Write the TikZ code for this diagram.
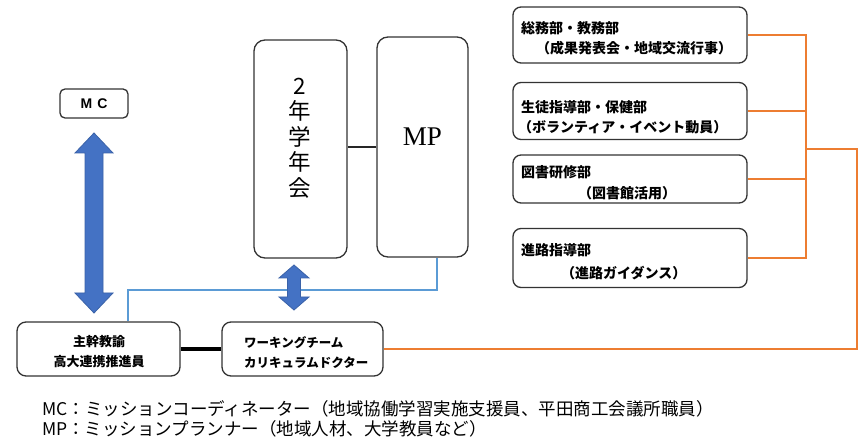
\documentclass[tikz,border=0pt]{standalone}
\usepackage{fontspec}
\setmainfont{Liberation Serif}
\newfontfamily\jp{Noto Sans CJK JP}
\newfontfamily\lsans{Liberation Sans}
\definecolor{orgline}{HTML}{ED7D31}
\definecolor{blueline}{HTML}{5B9BD5}
\definecolor{arrowfill}{HTML}{4472C4}
\definecolor{arrowdraw}{HTML}{3A62A8}
\definecolor{boxdraw}{HTML}{333333}
\begin{document}
\begin{tikzpicture}[x=1pt,y=-1pt,
  box/.style={draw=boxdraw, line width=1.3pt, rounded corners=8pt, fill=white, inner sep=0pt},
  rbox/.style={box, minimum width=234pt},
  rtext/.style={font=\jp\bfseries\fontsize{14}{20}\selectfont, align=left, inner sep=0pt, anchor=west},
  btext/.style={font=\jp\bfseries\fontsize{12.5}{20}\selectfont},
  orgl/.style={draw=orgline, line width=2pt},
  bluel/.style={draw=blueline, line width=1.5pt},
  bigarrow/.style={fill=arrowfill, draw=arrowdraw, line width=0.8pt},
  legend/.style={font=\jp\fontsize{17.5}{20}\selectfont, inner sep=0pt, anchor=west}
]
\useasboundingbox (0,0) rectangle (867,443);
\fill[white] (0,0) rectangle (867,443);

% MC box
\node[box, rounded corners=5pt, minimum width=68pt, minimum height=29pt,
      font=\lsans\bfseries\fontsize{14}{14}\selectfont] (mc) at (94,103.5) {M\hspace{5pt}C};

% tall boxes
\node[box, rounded corners=11pt, minimum width=93pt, minimum height=218pt] (nen) at (300.5,149) {};
\node[font=\jp\fontsize{22.5}{25.5}\selectfont, align=center, inner sep=0pt] (nentext) at (300,138) {2\\年\\学\\年\\会};
\node[box, rounded corners=11pt, minimum width=91pt, minimum height=220pt] (mp) at (422.5,147) {};
\node[font=\fontsize{27}{30}\selectfont, inner sep=0pt] (mptext) at (422.5,137) {MP};

% bottom boxes
\node[box, rounded corners=9pt, minimum width=163pt, minimum height=54pt] (kan) at (98.5,349) {};
\node[font=\jp\bfseries\fontsize{13}{20}\selectfont, align=center, inner sep=0pt] (kantext) at (99,352) {主幹教諭\\高大連携推進員};
\node[box, rounded corners=9pt, minimum width=161pt, minimum height=54pt] (wt) at (302.5,349) {};
\node[btext, align=left, inner sep=0pt, anchor=west] (wttext) at (244,352) {ワーキングチーム\\カリキュラムドクター};

% right boxes
\node[rbox, minimum height=56pt] (r1) at (630,35) {};
\node[rbox, minimum height=57pt] (r2) at (630,111) {};
\node[rbox, minimum height=48pt] (r3) at (630,179) {};
\node[rbox, minimum height=59pt] (r4) at (630,258) {};
\node[rtext] (t1) at (521,38) {総務部・教務部\\\hspace*{15pt}（成果発表会・地域交流行事）};
\node[rtext] (t2) at (521,117.5) {生徒指導部・保健部\\\hspace*{-3pt}（ボランティア・イベント動員）};
\node[rtext, font=\jp\bfseries\fontsize{14}{21}\selectfont] (t3) at (521,182.5) {図書研修部\\\hspace*{57pt}（図書館活用）};
\node[rtext, font=\jp\bfseries\fontsize{14}{23}\selectfont] (t4) at (521,261.5) {進路指導部\\\hspace*{40pt}（進路ガイダンス）};

% orange connectors
\coordinate (bus) at (806,149);
\draw[orgl] (r1.east) -- (r1.east -| bus) -- (r4.east -| bus) -- (r4.east);
\draw[orgl] (r2.east) -- (r2.east -| bus);
\draw[orgl] (r3.east) -- (r3.east -| bus);
\coordinate (obr) at (857,149);
\draw[orgl] (bus) -- (obr) -- (obr |- wt.east) -- (wt.east);

% black connectors
\draw[line width=1.6pt, black!85] (mp.west) -- (mp.west -| nen.east);
\draw[line width=4pt, black] (kan.east) -- (wt.west);

% blue thin connector
\coordinate (bl1) at (128,290);
\coordinate (bl2) at (437,290);
\draw[bluel] (bl1 |- kan.north) -- (bl1) -- (bl2) -- (bl2 |- mp.south);

% big double arrow
\draw[bigarrow] (94,133) -- (113,153) -- (103,153) -- (103,293) -- (113,293) -- (94,313)
  -- (75,293) -- (85,293) -- (85,153) -- (75,153) -- cycle;
% small double arrow
\draw[bigarrow] (294,265) -- (309,278) -- (300.5,278) -- (300.5,297) -- (309,297) -- (294,310)
  -- (279,297) -- (287.5,297) -- (287.5,278) -- (279,278) -- cycle;

% legend
\node[legend] (leg1) at (42,409) {MC：ミッションコーディネーター（地域協働学習実施支援員、平田商工会議所職員）};
\node[legend] (leg2) at (42,429) {MP：ミッションプランナー（地域人材、大学教員など）};
\end{tikzpicture}
\end{document}
